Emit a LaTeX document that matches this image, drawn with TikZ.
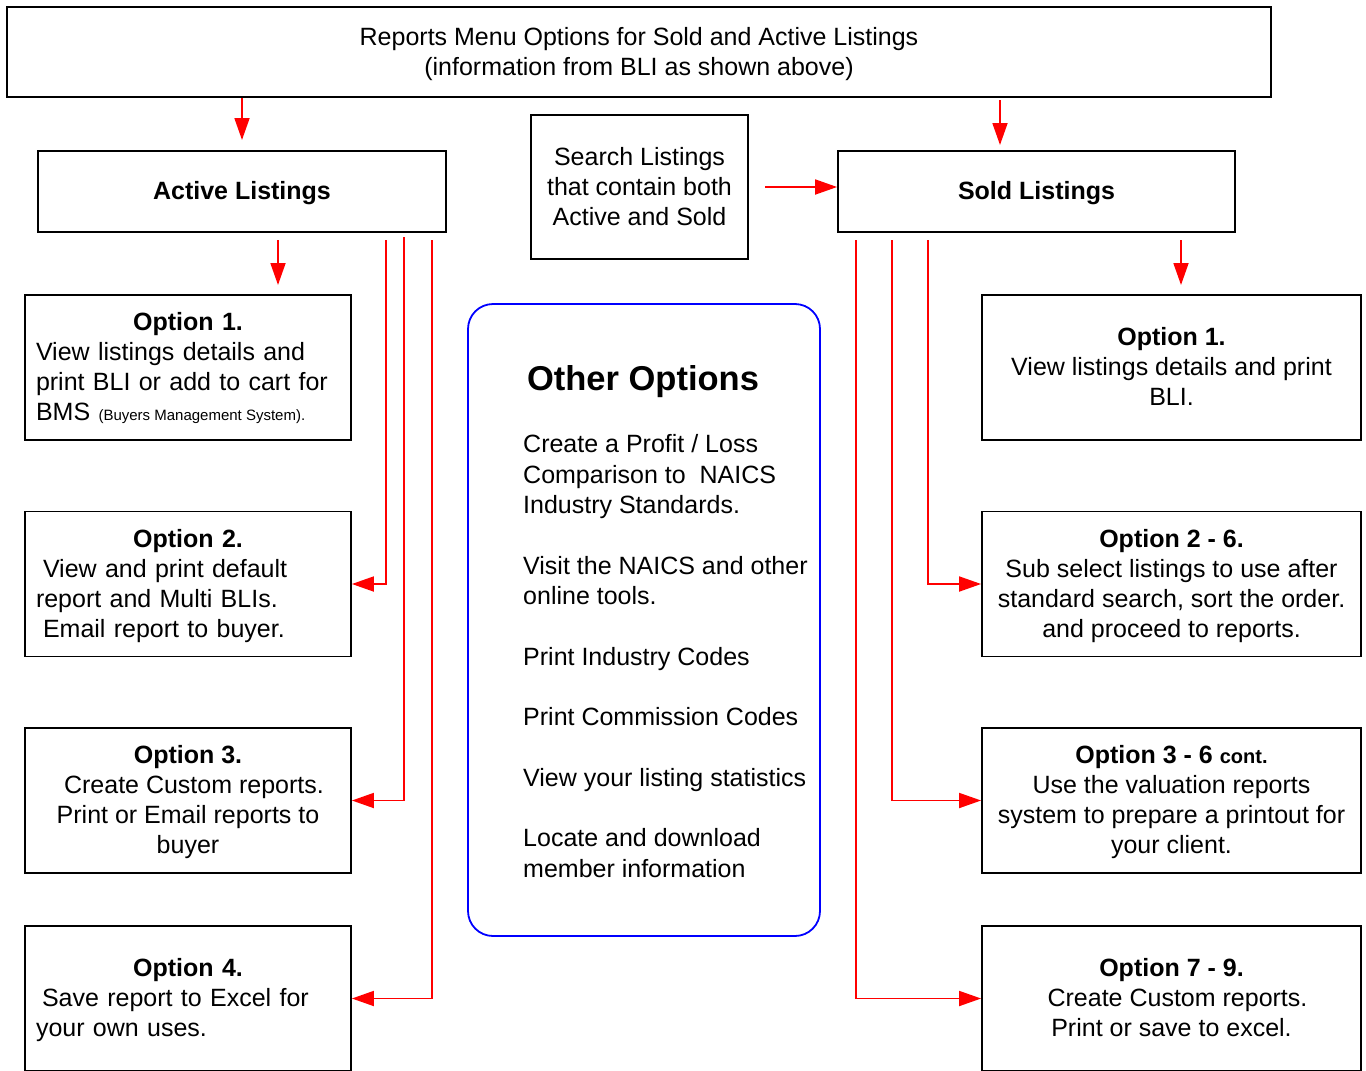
\documentclass[tikz,border=0pt]{standalone}
\usepackage{fontspec}
\setmainfont{Liberation Sans}
\usetikzlibrary{arrows.meta}
\setlength\parindent{0pt}
\newcommand\fsn{\fontsize{25}{30}\selectfont}
\newcommand\fsm{\fontsize{25}{30.3}\selectfont}
\newcommand\fsb{\fontsize{15}{17}\selectfont}
\newcommand\fsc{\fontsize{20}{24}\selectfont}
\newcommand\fst{\fontsize{34.5}{41}\selectfont}
\newcommand\st{\rule[-7pt]{0pt}{30pt}}
\begin{document}
\begin{tikzpicture}[x=1pt,y=-1pt,
  box/.style={draw=black, line width=1.8pt, rectangle, inner sep=0pt, align=center, font=\fsn},
  lbox/.style={box, minimum width=326pt, minimum height=145pt},
  rbox/.style={box, minimum width=379pt, minimum height=145pt},
  mixed/.style={align=left, text width=304pt},
  arr/.style={draw=red, line width=1.8pt, -{Triangle[length=22pt,width=15pt]}},
  txt/.style={inner sep=0pt}
]
\useasboundingbox (0,0) rectangle (1366,1071);
\fill[white] (0,0) rectangle (1366,1071);

% top
\node[box, minimum width=1264pt, minimum height=90pt] (top) at (639,52)
  {\st Reports Menu Options for Sold and Active Listings\\\st (information from BLI as shown above)};

\node[box, minimum width=408pt, minimum height=81pt] (act) at (242,191.5) {\st\bfseries Active Listings};
\node[box, minimum width=397pt, minimum height=81pt] (sold) at (1036.5,191.5) {\st\bfseries Sold Listings};
\node[box, minimum width=217pt, minimum height=144pt] (srch) at (639.5,187)
  {\st Search Listings\\\st that contain both\\\st Active and Sold};

% left options
\node[lbox, mixed] (o1l) at (188,367.5)
  {{\centering\bfseries\st Option 1.\par}
   \st View listings details and\\
   \st print BLI or add to cart for\\
   \st BMS {\fsb\spaceskip=0pt\xspaceskip=0pt (Buyers Management System).}\hspace*{\fill}};
\node[lbox, mixed] (o2l) at (188,584)
  {{\centering\bfseries\st Option 2.\par}
   \st\hspace*{7pt}View and print default\\
   \st report and Multi BLIs.\\
   \st\hspace*{7pt}Email report to buyer.};
\node[lbox] (o3l) at (188,800.5)
  {\st\textbf{Option 3.}\\\st\hspace*{12pt}Create Custom reports.\\\st Print or Email reports to\\\st buyer};
\node[lbox, mixed] (o4l) at (188,998.5)
  {{\centering\bfseries\st Option 4.\par}
   \st\hspace*{6pt}Save report to Excel for\\
   \st your own uses.};

% right options
\node[rbox] (r1) at (1171.5,367.5)
  {\st\textbf{Option 1.}\\\st View listings details and print\\\st BLI.};
\node[rbox] (r2) at (1171.5,584)
  {\st\textbf{Option 2 - 6.}\\\st Sub select listings to use after\\\st standard search, sort the order.\\\st and proceed to reports.};
\node[rbox] (r3) at (1171.5,800.5)
  {\st\textbf{Option 3 - 6 {\fsc cont.}}\\\st Use the valuation reports\\\st system to prepare a printout for\\\st your client.};
\node[rbox] (r4) at (1171.5,998.5)
  {\st\textbf{Option 7 - 9.}\\\st\hspace*{12pt}Create Custom reports.\\\st Print or save to excel.};

% other options
\node[draw=blue, line width=1.8pt, rounded corners=25pt, minimum width=352pt, minimum height=632pt, inner sep=0pt] (oth) at (644,620) {};
\node[txt, font=\fst] (otht) at (643,382) {\bfseries\strut Other Options};
\node[txt, font=\fsm, align=left, anchor=west] (othb) at (523,659)
  {\strut Create a Profit / Loss\\
   \strut Comparison to\ \ NAICS\\
   \strut Industry Standards.\\
   \strut\\
   \strut Visit the NAICS and other\\
   \strut online tools.\\
   \strut\\
   \strut Print Industry Codes\\
   \strut\\
   \strut Print Commission Codes\\
   \strut\\
   \strut View your listing statistics\\
   \strut\\
   \strut Locate and download\\
   \strut member information};

% connectors
\coordinate (a1e) at (242,140);
\draw[arr] (top.south -| a1e) -- (a1e);
\coordinate (a2s) at (1000,100);
\coordinate (a2e) at (1000,145);
\draw[arr] (a2s) -- (a2e);
\coordinate (a3s) at (765,187);
\draw[arr] (a3s) -- (a3s -| sold.west);
\coordinate (a4s) at (278,240);
\coordinate (a4e) at (278,285);
\draw[arr] (a4s) -- (a4e);
\coordinate (a5s) at (1181,240);
\coordinate (a5e) at (1181,285);
\draw[arr] (a5s) -- (a5e);

\coordinate (l1) at (386,240);
\coordinate (l2) at (404,237);
\coordinate (l3) at (432,240);
\draw[arr] (l1) |- (o2l.east);
\draw[arr] (l2) |- (o3l.east);
\draw[arr] (l3) |- (o4l.east);

\coordinate (q1) at (928,240);
\coordinate (q2) at (892,240);
\coordinate (q3) at (856,240);
\draw[arr] (q1) |- (r2.west);
\draw[arr] (q2) |- (r3.west);
\draw[arr] (q3) |- (r4.west);
\end{tikzpicture}
\end{document}
